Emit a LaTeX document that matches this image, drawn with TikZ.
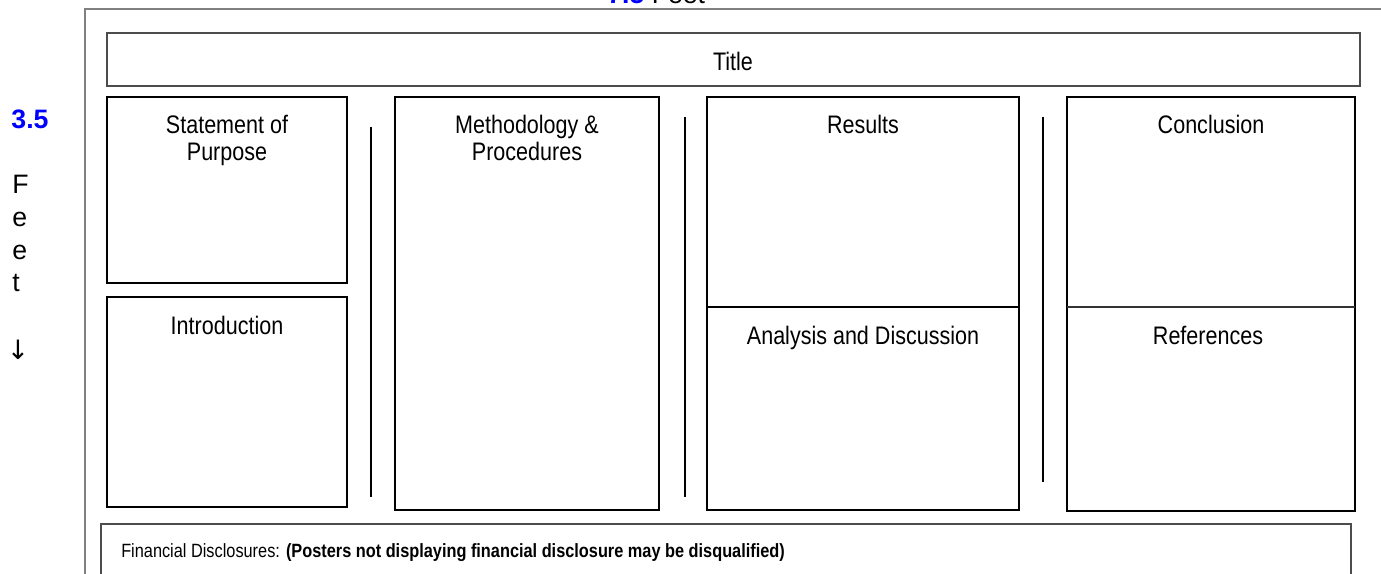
\documentclass[tikz,border=0pt]{standalone}
\usepackage{fontspec}
\setmainfont{Liberation Sans}
\newfontfamily\narrowfont{Liberation Sans}[FakeStretch=0.85]
\newfontfamily\arrowfont{DejaVu Sans}

\begin{document}
\begin{tikzpicture}[x=0.75pt, y=-0.75pt,
    panel/.style={draw=black, line width=1.5pt},
    heading/.style={font=\narrowfont\fontsize{19}{20.25}\selectfont, align=center, inner sep=0pt, anchor=base},
    sidetext/.style={font=\fontsize{20}{24}\selectfont, inner sep=0pt}]
        \clip (0,0) rectangle (1381,574);

        % Poster edge
        \draw[gray, line width=1.5pt] (85,580) -- (85,9) -- (1390,9);

        % Size labels
        \node[sidetext, anchor=base west] (widthlabel) at (607,4) {{\color{blue}\bfseries 7.5} Feet};
        \node[sidetext, anchor=base, text=blue, font=\bfseries\fontsize{20}{24}\selectfont] (heightlabel) at (30,129) {3.5};
        \foreach \i/\ch in {0/F,1/e,2/e,3/t} {
            \node[sidetext, anchor=base west] (feet\i) at (12, 194 + \i*32.5) {\ch};
        }
        \node[font=\arrowfont\fontsize{20}{24}\selectfont, inner sep=0pt] (down) at (18,350) {↓};

        % Title bar
        \draw[black!70, line width=0.9pt] (107,33) rectangle (1360,86);
        \node[heading] (title) at (733,71) {Title};

        % Panels
        \foreach \x/\y/\xx/\yy in {107/97/347/283, 107/297/347/507, 395/97/659/510, 707/97/1019/510, 1067/97/1355/511} {
            \draw[panel] (\x,\y) rectangle (\xx,\yy);
        }
        \draw[panel] (707,307) -- (1019,307);
        \draw[panel, draw=black!80] (1067,307) -- (1355,307);

        % Column separators
        \foreach \x/\top/\bot in {371/127/497, 685/117/497, 1043/117/482} {
            \draw[line width=1.5pt] (\x,\top) -- (\x,\bot);
        }

        % Panel headings (base sits on the last line)
        \foreach \name/\x/\y/\txt in {
            purpose/227/161/{Statement of\\Purpose},
            intro/227/334/{Introduction},
            method/527/161/{Methodology \&\\Procedures},
            results/863/134/{Results},
            analysis/863/344/{Analysis and Discussion},
            conclusion/1211/134/{Conclusion},
            references/1211/344/{References}
        } {
            \node[heading] (\name) at (\x,\y) {\txt};
        }

        % Footer
        \draw[black!70, line width=1.1pt] (101,524) rectangle (1351,590);
        \node[anchor=base west, inner sep=0pt, font=\narrowfont\fontsize{14.4}{17}\selectfont] (disclosure) at (121,557)
            {Financial Disclosures: \textbf{(Posters not displaying financial disclosure may be disqualified)}};
\end{tikzpicture}
\end{document}
